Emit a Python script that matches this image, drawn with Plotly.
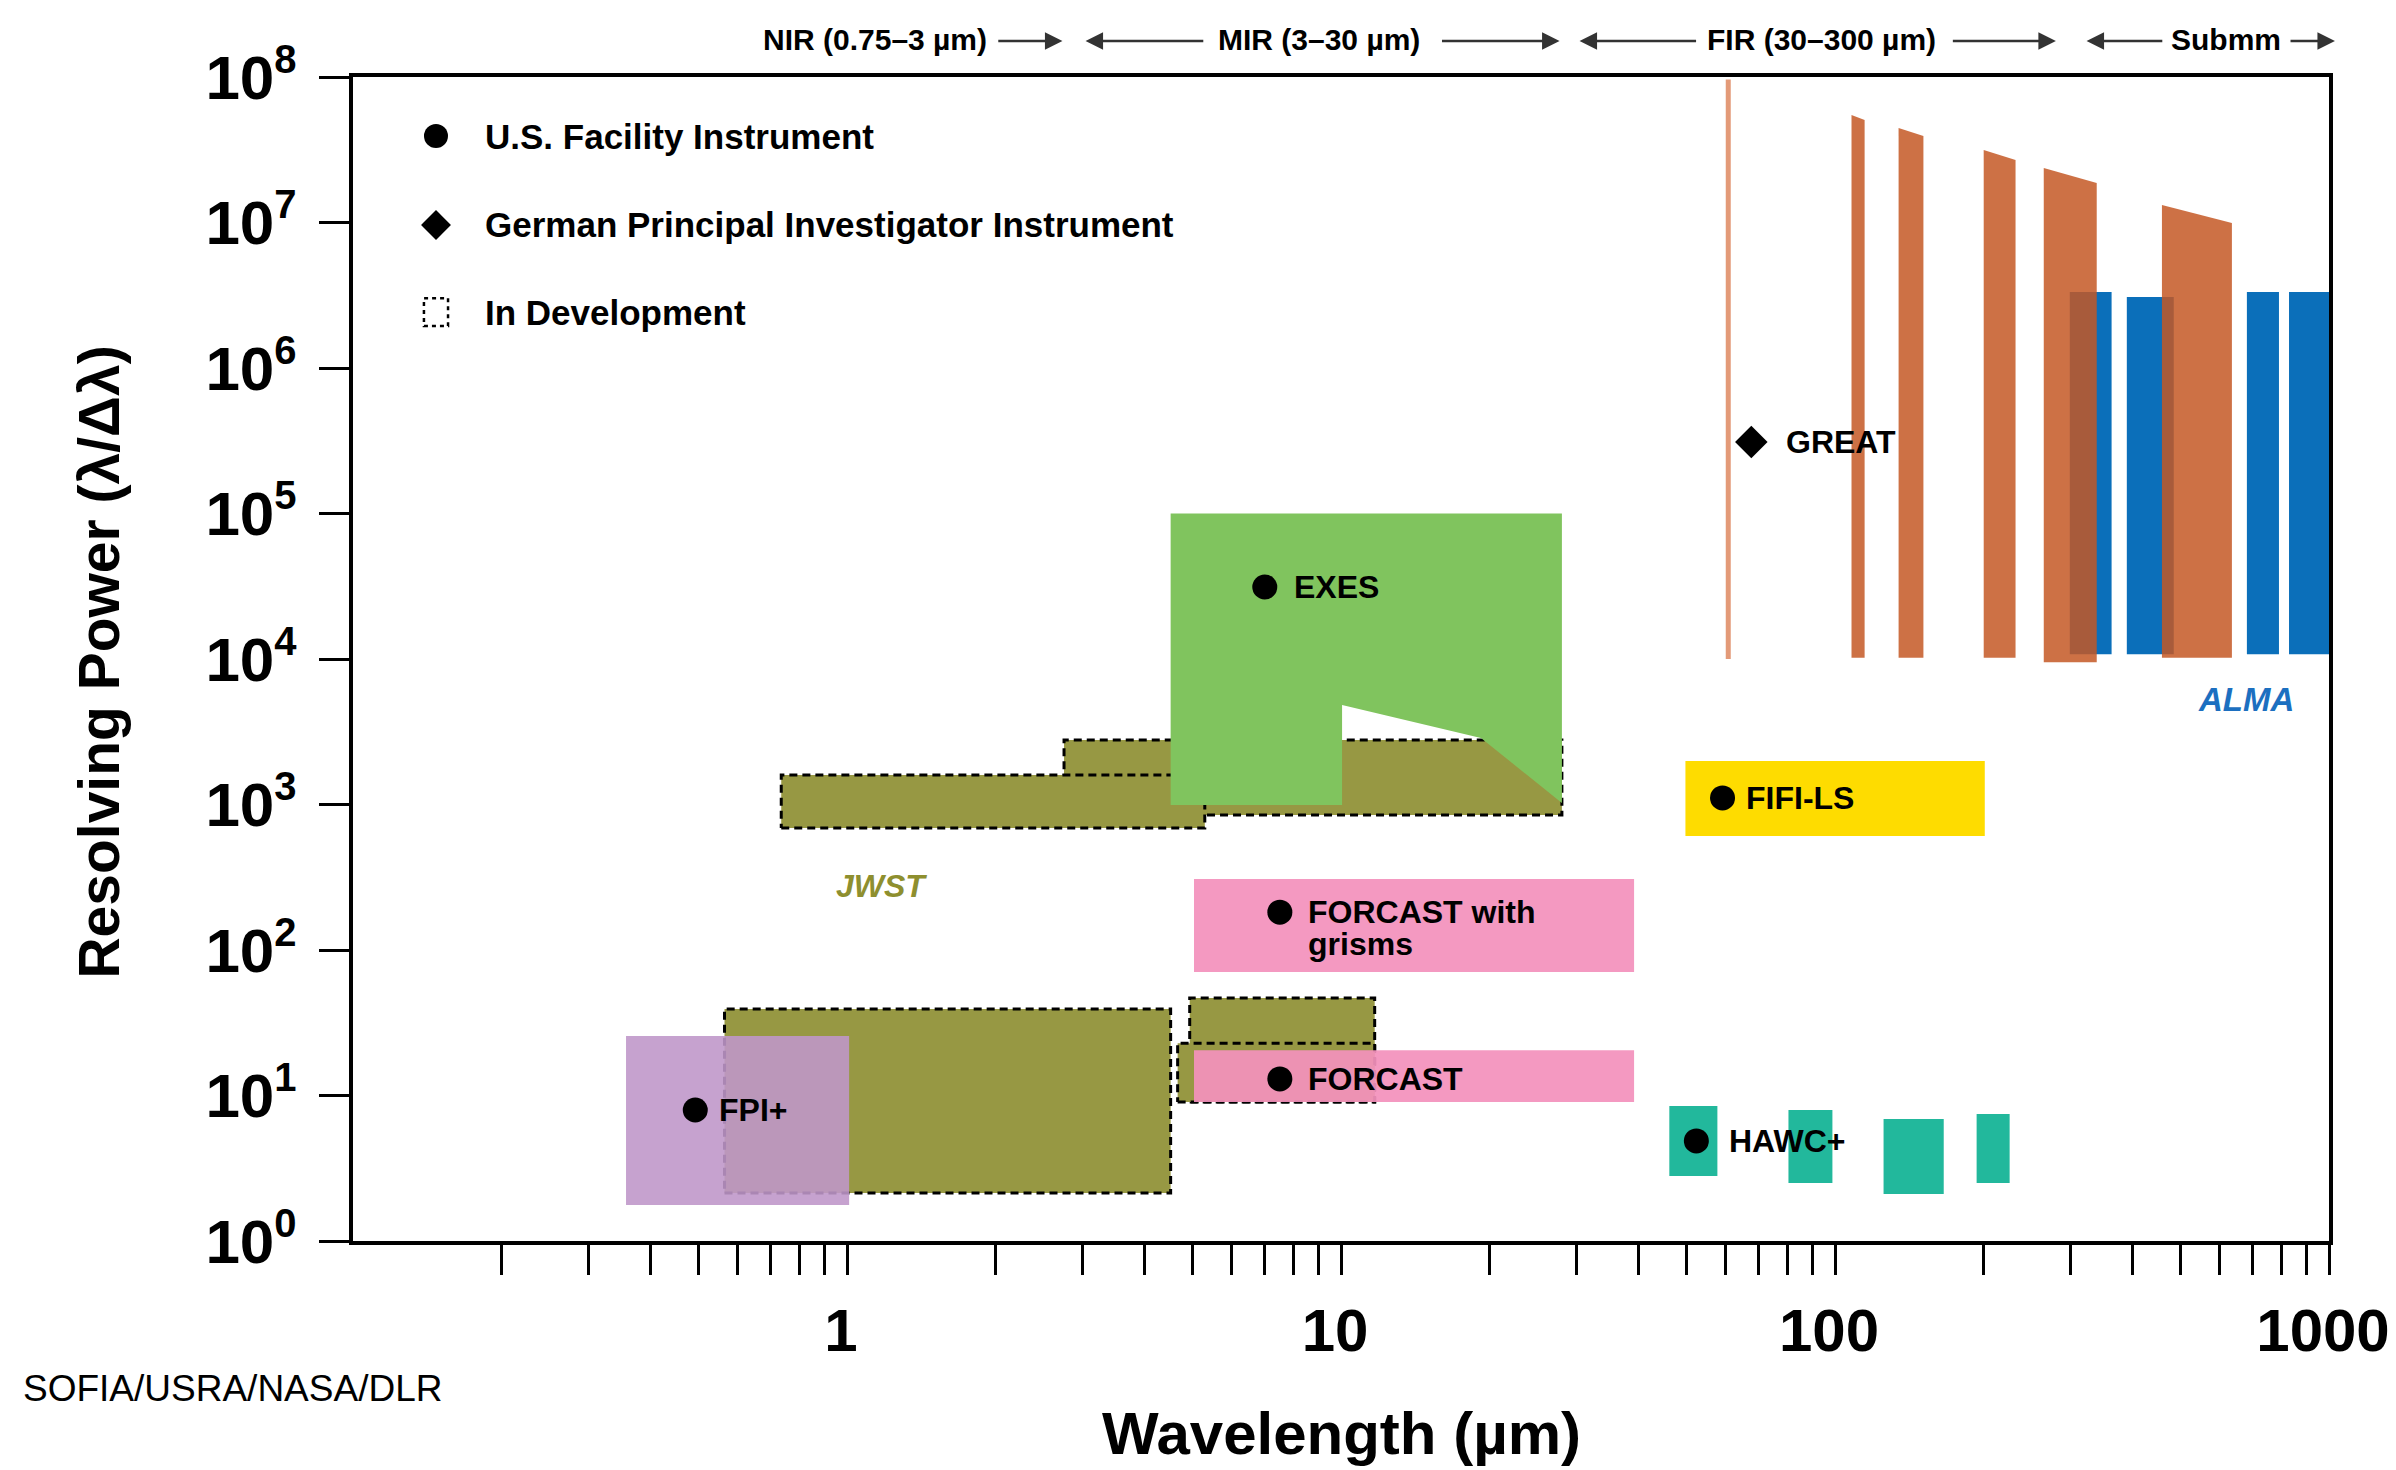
import math
import plotly.graph_objects as go

FONT = "Liberation Sans, Arial, Helvetica, sans-serif"

# ---------------- axes ----------------
x_range_um = [0.1, 1000]
y_range_R = [1, 1e8]
x_label_ticks = [1, 10, 100, 1000]
x_minor_ticks = [0.2, 0.3, 0.4, 0.5, 0.6, 0.7, 0.8, 0.9,
                 2, 3, 4, 5, 6, 7, 8, 9,
                 20, 30, 40, 50, 60, 70, 80, 90,
                 200, 300, 400, 500, 600, 700, 800, 900]
y_tick_exponents = [0, 1, 2, 3, 4, 5, 6, 7, 8]

# ---------------- JWST (in development, dashed) ----------------
# order: MIR upper, NIR/MIR long, NIR big, MIR small upper, MIR small lower
jwst_x0 = [2.75, 0.736, 0.565, 4.94, 4.67]
jwst_x1 = [28.0, 5.30, 4.52, 11.7, 11.7]
jwst_R0 = [847, 689, 2.14, 9.02, 9.02]
jwst_R1 = [2775, 1595, 39.3, 46.8, 22.9]

# ---------------- EXES outline ----------------
exes_x = [4.52, 28.0, 28.0, 19.2, 10.05, 10.05, 4.52]
exes_R = [1.0e5, 1.0e5, 1024, 2866, 4830, 993, 993]

# ---------------- FPI+ ----------------
fpi_x = [0.357, 1.01]
fpi_R = [1.77, 25.6]

# ---------------- FORCAST ----------------
forcast_x = [5.04, 39.2]
forcast_R = [9.02, 20.5]
forcast_grism_x = [5.04, 39.2]
forcast_grism_R = [70.6, 307]

# ---------------- FIFI-LS ----------------
fifi_x = [49.8, 201]
fifi_R = [608, 1990]

# ---------------- HAWC+ bands ----------------
hawc_x0 = [46.2, 80.5, 125.4, 193.5]
hawc_x1 = [57.8, 98.8, 166, 225.7]
hawc_R0 = [2.80, 2.50, 2.10, 2.50]
hawc_R1 = [8.47, 7.95, 6.90, 7.46]

# ---------------- GREAT channels ----------------
great_line_x = 60.8
great_line_R = [1.0e4, 9.6e7]
great_x0 = [108, 134.5, 200, 264.6, 459]
great_x1 = [114.8, 151, 232, 338.7, 636]
great_top_left = [5.48e7, 4.46e7, 3.15e7, 2.37e7, 1.32e7]
great_top_right = [5.06e7, 3.93e7, 2.69e7, 1.87e7, 9.93e6]
great_bottom = [1.02e4, 1.02e4, 1.02e4, 9.5e3, 1.02e4]

# ---------------- ALMA bands ----------------
alma_x0 = [298.7, 389.7, 682, 830]
alma_x1 = [363, 485, 792, 1000]
alma_top = [3.33e6, 3.08e6, 3.33e6, 3.33e6]
alma_bottom = [1.08e4, 1.08e4, 1.08e4, 1.08e4]

# ---------------- instrument labels ----------------
label_text = ["EXES", "FORCAST with", "FORCAST", "FIFI-LS", "GREAT", "HAWC+", "FPI+"]
label_marker_x = [7.01, 7.52, 7.52, 59.2, 67.7, 52.4, 0.493]
label_marker_R = [31260, 182, 13.0, 1109, 3.1e5, 4.87, 7.95]
label_text_x = [7.96, 8.49, 8.49, 65.3, 78.7, 60.5, 0.546]
label_symbol = ["circle", "circle", "circle", "circle", "diamond", "circle", "circle"]
grism_second_line = "grisms"
grism_second_line_R = 110

jwst_label_pos = (1.175, 275)
alma_label_pos = (679, 5230)

# ---------------- wavelength regions (header) ----------------
region_text = ["NIR (0.75–3 µm)", "MIR (3–30 µm)", "FIR (30–300 µm)", "Submm"]
region_text_x = [1.14, 9.03, 93.9, 620]
# arrow segments: (tail, tip) in µm
arrow_tail = [2.01, 5.30, 15.9, 52.7, 172, 463, 830]
arrow_tip = [2.73, 3.04, 27.7, 30.4, 280, 323, 1028]
HEADER_PAPER_Y = 1.031

# ---------------- legend ----------------
legend_text = ["U.S. Facility Instrument", "German Principal Investigator Instrument", "In Development"]
legend_row_paper_y = [0.9493, 0.8729, 0.798]
legend_marker_paper_x = 0.042
legend_text_paper_x = 0.0658

# colours
OLIVE = "#979843"
GREEN = "#80c45e"
LAVENDER = "rgba(191,150,201,0.89)"
PINK = "rgba(243,145,188,0.93)"
YELLOW = "#fedc00"
TEAL = "#22b89c"
ORANGE = "rgba(196,88,37,0.85)"
ORANGE_LINE = "#e39a78"
BLUE = "#0b6fba"
DASH = "8px,5px"

fig = go.Figure()


def rect(x0, x1, r0, r1):
    return [x0, x1, x1, x0, x0], [r0, r0, r1, r1, r0]


def add_poly(xs, ys, fillcolor, dashed=False):
    if dashed:
        fig.add_trace(go.Scatter(x=xs, y=ys, mode="lines", fill="toself",
                                 fillcolor=fillcolor,
                                 line=dict(color="black", width=3, dash=DASH),
                                 hoverinfo="skip", showlegend=False))
    else:
        fig.add_trace(go.Scatter(x=xs, y=ys, mode="none", fill="toself",
                                 fillcolor=fillcolor, hoverinfo="skip",
                                 showlegend=False))


def paper_to_data(px, py):
    lx = math.log10(x_range_um[0]) + px * (math.log10(x_range_um[1]) - math.log10(x_range_um[0]))
    ly = math.log10(y_range_R[0]) + py * (math.log10(y_range_R[1]) - math.log10(y_range_R[0]))
    return 10 ** lx, 10 ** ly


# JWST upper boxes (below EXES)
for i in [0, 1]:
    xs, ys = rect(jwst_x0[i], jwst_x1[i], jwst_R0[i], jwst_R1[i])
    add_poly(xs, ys, OLIVE, dashed=True)

# EXES
add_poly(exes_x + [exes_x[0]], exes_R + [exes_R[0]], GREEN)

# JWST lower boxes
for i in [2, 3, 4]:
    xs, ys = rect(jwst_x0[i], jwst_x1[i], jwst_R0[i], jwst_R1[i])
    add_poly(xs, ys, OLIVE, dashed=True)

# FPI+
xs, ys = rect(fpi_x[0], fpi_x[1], fpi_R[0], fpi_R[1])
add_poly(xs, ys, LAVENDER)

# FORCAST
xs, ys = rect(forcast_x[0], forcast_x[1], forcast_R[0], forcast_R[1])
add_poly(xs, ys, PINK)
xs, ys = rect(forcast_grism_x[0], forcast_grism_x[1], forcast_grism_R[0], forcast_grism_R[1])
add_poly(xs, ys, PINK)

# FIFI-LS
xs, ys = rect(fifi_x[0], fifi_x[1], fifi_R[0], fifi_R[1])
add_poly(xs, ys, YELLOW)

# HAWC+
for i in range(len(hawc_x0)):
    xs, ys = rect(hawc_x0[i], hawc_x1[i], hawc_R0[i], hawc_R1[i])
    add_poly(xs, ys, TEAL)

# ALMA
for i in range(len(alma_x0)):
    xs, ys = rect(alma_x0[i], alma_x1[i], alma_bottom[i], alma_top[i])
    add_poly(xs, ys, BLUE)

# GREAT
fig.add_trace(go.Scatter(x=[great_line_x, great_line_x], y=great_line_R, mode="lines",
                         line=dict(color=ORANGE_LINE, width=5), hoverinfo="skip",
                         showlegend=False))
for i in range(len(great_x0)):
    xs = [great_x0[i], great_x0[i], great_x1[i], great_x1[i], great_x0[i]]
    ys = [great_bottom[i], great_top_left[i], great_top_right[i], great_bottom[i], great_bottom[i]]
    add_poly(xs, ys, ORANGE)

# instrument markers
for sym in ["circle", "diamond"]:
    idx = [i for i, s in enumerate(label_symbol) if s == sym]
    fig.add_trace(go.Scatter(
        x=[label_marker_x[i] for i in idx], y=[label_marker_R[i] for i in idx],
        mode="markers", marker=dict(symbol=sym, color="black", size=25, line=dict(width=0)),
        hoverinfo="skip", showlegend=False))

# legend markers
for sym, row in [("circle", 0), ("diamond", 1)]:
    mx, my = paper_to_data(legend_marker_paper_x, legend_row_paper_y[row])
    fig.add_trace(go.Scatter(x=[mx], y=[my], mode="markers",
                             marker=dict(symbol=sym, color="black", size=24 if sym == "circle" else 23),
                             hoverinfo="skip", showlegend=False, cliponaxis=False))

annotations = []
LBL_FONT = dict(family=FONT, size=32, color="black", weight=700)
for i, t in enumerate(label_text):
    annotations.append(dict(x=math.log10(label_text_x[i]), y=math.log10(label_marker_R[i]),
                            xref="x", yref="y", text=t, showarrow=False,
                            xanchor="left", yanchor="middle", font=LBL_FONT))
annotations.append(dict(x=math.log10(label_text_x[1]), y=math.log10(grism_second_line_R),
                        xref="x", yref="y", text=grism_second_line, showarrow=False,
                        xanchor="left", yanchor="middle", font=LBL_FONT))
annotations.append(dict(x=math.log10(jwst_label_pos[0]), y=math.log10(jwst_label_pos[1]),
                        xref="x", yref="y", text="JWST", showarrow=False,
                        font=dict(family=FONT, size=32, color="#8e8f2f", weight=700, style="italic")))
annotations.append(dict(x=math.log10(alma_label_pos[0]), y=math.log10(alma_label_pos[1]),
                        xref="x", yref="y", text="ALMA", showarrow=False,
                        font=dict(family=FONT, size=33, color="#1c6fc0", weight=700, style="italic")))

# legend texts
for i, t in enumerate(legend_text):
    annotations.append(dict(x=legend_text_paper_x, y=legend_row_paper_y[i], xref="paper", yref="paper",
                            text=t, showarrow=False, xanchor="left", yanchor="middle",
                            font=dict(family=FONT, size=35, color="black", weight=700)))

# header region labels
for i, t in enumerate(region_text):
    annotations.append(dict(x=math.log10(region_text_x[i]), y=HEADER_PAPER_Y + 0.001, xref="x", yref="paper",
                            text=t, showarrow=False, xanchor="center", yanchor="middle",
                            font=dict(family=FONT, size=30, color="black", weight=700)))
# header arrows
for tail, tip in zip(arrow_tail, arrow_tip):
    annotations.append(dict(x=math.log10(tip), y=HEADER_PAPER_Y, xref="x", yref="paper",
                            ax=math.log10(tail), ay=0, axref="x", ayref="pixel",
                            text="", showarrow=True, arrowhead=2, arrowsize=1.4,
                            arrowwidth=2.5, arrowcolor="#333333", standoff=0, startstandoff=0))

# axis titles and credit
annotations.append(dict(x=0.5, y=-0.165, xref="paper", yref="paper", text="Wavelength (µm)",
                        showarrow=False, xanchor="center", yanchor="middle",
                        font=dict(family=FONT, size=60, color="black", weight=700)))
annotations.append(dict(x=-0.1285, y=0.497, xref="paper", yref="paper", text="Resolving Power (λ/Δλ)",
                        showarrow=False, xanchor="center", yanchor="middle", textangle=-90,
                        font=dict(family=FONT, size=57, color="black", weight=700)))
annotations.append(dict(x=-0.168, y=-0.127, xref="paper", yref="paper", text="SOFIA/USRA/NASA/DLR",
                        showarrow=False, xanchor="left", yanchor="middle",
                        font=dict(family=FONT, size=37, color="black")))

shapes = [dict(type="rect", xref="paper", yref="paper",
               x0=legend_marker_paper_x - 0.0061, x1=legend_marker_paper_x + 0.0061,
               y0=legend_row_paper_y[2] - 0.012, y1=legend_row_paper_y[2] + 0.012,
               line=dict(color="black", width=2.5, dash="4px,4px"), fillcolor="rgba(0,0,0,0)")]

fig.update_layout(
    width=2396, height=1470, autosize=False,
    margin=dict(l=353, r=67, t=77, b=229, autoexpand=False),
    plot_bgcolor="white", paper_bgcolor="white", showlegend=False,
    annotations=annotations, shapes=shapes,
    xaxis=dict(type="log", range=[math.log10(x_range_um[0]), math.log10(x_range_um[1])],
               showgrid=False, zeroline=False, showline=True, linecolor="black", linewidth=4,
               mirror=True, ticks="outside", ticklen=30, tickwidth=3, tickcolor="black",
               tickmode="array", tickvals=x_label_ticks, ticktext=[str(v) for v in x_label_ticks],
               ticklabelstandoff=4, ticklabeloverflow="allow", automargin=False,
               ticklabelshift=-6,
               minor=dict(tickmode="array", tickvals=x_minor_ticks, ticks="outside",
                          ticklen=30, tickwidth=3, tickcolor="black", showgrid=False),
               tickfont=dict(family=FONT, size=60, color="black", weight=700)),
    yaxis=dict(type="log", range=[math.log10(y_range_R[0]), math.log10(y_range_R[1])],
               showgrid=False, zeroline=False, showline=True, linecolor="black", linewidth=4,
               mirror=True, ticks="outside", ticklen=30, tickwidth=3, tickcolor="black",
               tickmode="array", tickvals=[10 ** e for e in y_tick_exponents],
               ticktext=[f"10<sup><span style='font-size:40px'>{e}</span></sup>" for e in y_tick_exponents],
               ticklabelstandoff=10, ticklabeloverflow="allow", automargin=False,
               tickfont=dict(family=FONT, size=62, color="black", weight=700)),
)

fig.write_html("out.html")
